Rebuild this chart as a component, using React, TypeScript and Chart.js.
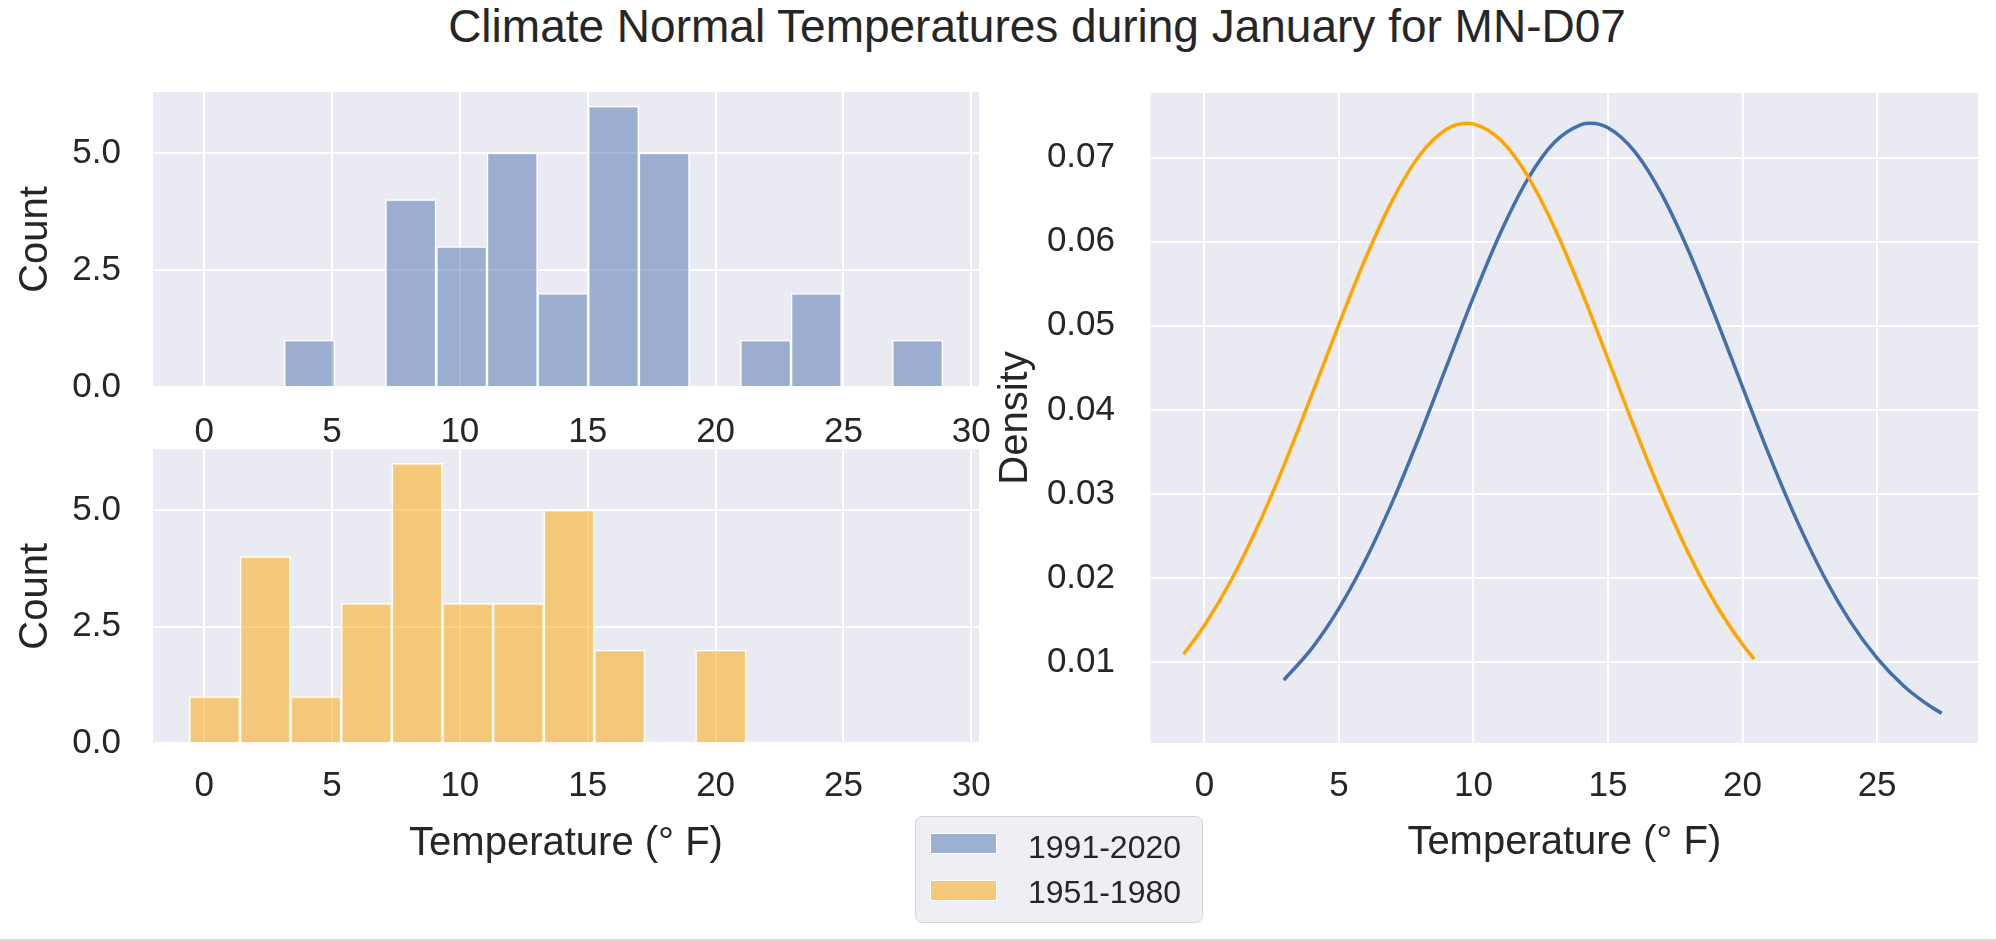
import React, { useEffect, useRef } from "react";
import { Chart, registerables } from "chart.js";

Chart.register(...registerables);

const FONT = "'Liberation Sans', Arial, Helvetica, sans-serif";
const TEXT = "#262626";
const AXES_BG = "#EAEAF2";

const TITLE = "Climate Normal Temperatures during January for MN-D07";
const SERIES = ["1991-2020", "1951-1980"];
const X_TITLE = "Temperature (° F)";
const COUNT_TITLE = "Count";
const DENSITY_TITLE = "Density";

// Histogram 1991-2020 (bin centres, counts)
const RECENT_BIN_CENTERS = [4.12, 6.1, 8.08, 10.07, 12.05, 14.03, 16.01, 17.99, 19.98, 21.96, 23.94, 25.92, 27.9];
const RECENT_COUNTS = [1, 0, 4, 3, 5, 2, 6, 5, 0, 1, 2, 0, 1];

// Histogram 1951-1980
const PAST_BIN_CENTERS = [0.41, 2.39, 4.37, 6.35, 8.33, 10.31, 12.29, 14.27, 16.25, 18.23, 20.21];
const PAST_COUNTS = [1, 4, 1, 3, 6, 3, 3, 5, 2, 0, 2];

// Density curves
const RECENT_DENSITY_X = [2.95, 4, 5, 6, 7, 8, 9, 10, 11, 12, 13, 14, 14.35, 15, 16, 17, 18, 19, 20, 21, 22, 23, 24, 25, 26, 27, 27.4];
const RECENT_DENSITY_Y = [0.00785, 0.01165, 0.01637, 0.02222, 0.02914, 0.03692, 0.04519, 0.05344, 0.06104, 0.06736, 0.0718, 0.07394, 0.0741, 0.07356, 0.0707, 0.06564, 0.05887, 0.051, 0.0427, 0.03452, 0.02697, 0.02035, 0.01483, 0.01045, 0.00711, 0.00467, 0.00391];
const PAST_DENSITY_X = [-0.77, 0, 1, 2, 3, 4, 5, 6, 7, 8, 9, 9.75, 10, 11, 12, 13, 14, 15, 16, 17, 18, 19, 20, 20.43];
const PAST_DENSITY_Y = [0.01095, 0.01435, 0.01975, 0.02626, 0.03373, 0.04186, 0.05018, 0.05812, 0.06502, 0.07029, 0.07338, 0.0741, 0.07402, 0.07213, 0.0679, 0.06174, 0.05424, 0.04603, 0.03774, 0.02989, 0.02287, 0.0169, 0.01207, 0.01033];

// Ticks and limits
const HIST_X_TICKS = [0, 5, 10, 15, 20, 25, 30];
const HIST_Y_TICKS = [0, 2.5, 5];
const DENS_X_TICKS = [0, 5, 10, 15, 20, 25];
const DENS_Y_TICKS = [0.01, 0.02, 0.03, 0.04, 0.05, 0.06, 0.07];
const HIST_X_LIMITS = [-2.0, 30.3];
const HIST_Y_LIMITS = [0, 6.3];
const DENS_X_LIMITS = [-2.0, 28.75];
const DENS_Y_LIMITS = [0.00036, 0.0777];

const BLUE_FILL = "rgba(76, 114, 176, 0.5)";
const ORANGE_FILL = "rgba(255, 165, 0, 0.5)";
const BLUE_LINE = "#4270ad";
const ORANGE_LINE = "#FFA500";

const bgPlugin = {
  id: "axesBg",
  beforeDraw(chart: any) {
    const { ctx, chartArea } = chart;
    if (!chartArea) return;
    ctx.save();
    ctx.fillStyle = AXES_BG;
    ctx.fillRect(chartArea.left, chartArea.top, chartArea.right - chartArea.left, chartArea.bottom - chartArea.top);
    ctx.restore();
  },
};

function makeAxis(o: {
  limits: number[];
  ticks: number[];
  fmt: (v: number) => string;
  size: number;
  horizontal: boolean;
  tickPad: number;
  title?: string;
  titlePad?: number;
  showLabels?: boolean;
}) {
  return {
    type: "linear",
    min: o.limits[0],
    max: o.limits[1],
    offset: false,
    grid: { color: "#ffffff", lineWidth: 2, drawTicks: false, offset: false },
    border: { display: false },
    ticks: {
      display: o.showLabels !== false,
      padding: o.tickPad,
      color: TEXT,
      font: { family: FONT, size: 35 },
      maxRotation: 0,
      minRotation: 0,
      autoSkip: false,
      callback: (v: any) => o.fmt(Number(v)),
    },
    title: o.title
      ? {
          display: true,
          text: o.title,
          color: TEXT,
          font: { family: FONT, size: 40 },
          padding: { top: o.titlePad ?? 0, bottom: o.titlePad ?? 0 },
        }
      : { display: false },
    afterBuildTicks: (s: any) => {
      s.ticks = o.ticks.map((v) => ({ value: v }));
    },
    afterFit: (s: any) => {
      if (o.horizontal) s.height = o.size;
      else s.width = o.size;
      s.paddingTop = 0;
      s.paddingBottom = 0;
      s.paddingLeft = 0;
      s.paddingRight = 0;
    },
  };
}

function histConfig(
  centers: number[],
  counts: number[],
  color: string,
  label: string,
  layout: { top: number; right: number; yWidth: number; xHeight: number; xTickPad: number; xTitle?: string; xTitlePad?: number }
) {
  return {
    type: "bar",
    data: {
      datasets: [
        {
          label,
          data: centers.map((c, i) => ({ x: c, y: counts[i] })),
          backgroundColor: color,
          borderColor: "#ffffff",
          borderWidth: 1.5,
          barPercentage: 1,
          categoryPercentage: 1,
        },
      ],
    },
    options: {
      animation: false,
      responsive: true,
      maintainAspectRatio: false,
      devicePixelRatio: 1,
      events: [],
      layout: { autoPadding: false, padding: { top: layout.top, right: layout.right, left: 0, bottom: 0 } },
      plugins: { legend: { display: false }, tooltip: { enabled: false }, title: { display: false } },
      scales: {
        x: makeAxis({
          limits: HIST_X_LIMITS,
          ticks: HIST_X_TICKS,
          fmt: (v) => String(v),
          size: layout.xHeight,
          horizontal: true,
          tickPad: layout.xTickPad,
          title: layout.xTitle,
          titlePad: layout.xTitlePad,
        }),
        y: makeAxis({
          limits: HIST_Y_LIMITS,
          ticks: HIST_Y_TICKS,
          fmt: (v) => v.toFixed(1),
          size: layout.yWidth,
          horizontal: false,
          tickPad: 32,
          title: COUNT_TITLE,
          titlePad: 12,
        }),
      },
    },
    plugins: [bgPlugin],
  };
}

function densityConfig() {
  return {
    type: "line",
    data: {
      datasets: [
        {
          label: SERIES[1],
          data: PAST_DENSITY_X.map((x, i) => ({ x, y: PAST_DENSITY_Y[i] })),
          borderColor: ORANGE_LINE,
          backgroundColor: ORANGE_LINE,
          borderWidth: 3.5,
          pointRadius: 0,
          cubicInterpolationMode: "monotone",
          fill: false,
          order: 0,
        },
        {
          label: SERIES[0],
          data: RECENT_DENSITY_X.map((x, i) => ({ x, y: RECENT_DENSITY_Y[i] })),
          borderColor: BLUE_LINE,
          backgroundColor: BLUE_LINE,
          borderWidth: 3.5,
          pointRadius: 0,
          cubicInterpolationMode: "monotone",
          fill: false,
          order: 1,
        },
      ],
    },
    options: {
      animation: false,
      responsive: true,
      maintainAspectRatio: false,
      devicePixelRatio: 1,
      events: [],
      layout: { autoPadding: false, padding: { top: 33, right: 18, left: 0, bottom: 0 } },
      plugins: { legend: { display: false }, tooltip: { enabled: false }, title: { display: false } },
      scales: {
        x: makeAxis({
          limits: DENS_X_LIMITS,
          ticks: DENS_X_TICKS,
          fmt: (v) => String(v),
          size: 137,
          horizontal: true,
          tickPad: 22,
          title: X_TITLE,
          titlePad: 13,
        }),
        y: makeAxis({
          limits: DENS_Y_LIMITS,
          ticks: DENS_Y_TICKS,
          fmt: (v) => v.toFixed(2),
          size: 190.6,
          horizontal: false,
          tickPad: 35.6,
          title: DENSITY_TITLE,
          titlePad: 32,
        }),
      },
    },
    plugins: [bgPlugin],
  };
}

function ChartBox(props: { left: number; top: number; width: number; height: number; make: () => any }) {
  const ref = useRef<HTMLCanvasElement>(null);
  useEffect(() => {
    const chart = new Chart(ref.current as HTMLCanvasElement, props.make());
    return () => chart.destroy();
  }, []);
  return (
    <div style={{ position: "absolute", left: props.left, top: props.top, width: props.width, height: props.height }}>
      <canvas ref={ref} />
    </div>
  );
}

function LegendRow(props: { top: number; color: string; text: string; textTop: number }) {
  return (
    <>
      <div
        style={{
          position: "absolute",
          left: 930,
          top: props.top,
          width: 67,
          height: 21,
          background: props.color,
          boxSizing: "border-box",
          border: "1.5px solid #ffffff",
        }}
      />
      <div
        style={{
          position: "absolute",
          left: 1028,
          top: props.textTop,
          fontSize: 32,
          lineHeight: "32px",
          color: TEXT,
          whiteSpace: "nowrap",
        }}
      >
        {props.text}
      </div>
    </>
  );
}

export default function App() {
  return (
    <div
      style={{
        position: "fixed",
        left: 0,
        top: 0,
        width: 1996,
        height: 942,
        background: "#ffffff",
        overflow: "hidden",
        fontFamily: FONT,
      }}
    >
      <div
        style={{
          position: "absolute",
          left: 1037,
          top: 3,
          transform: "translateX(-50%)",
          fontSize: 46,
          lineHeight: "46px",
          color: TEXT,
          whiteSpace: "nowrap",
        }}
      >
        {TITLE}
      </div>
      <ChartBox
        left={0}
        top={60}
        width={1000}
        height={400}
        make={() =>
          histConfig(RECENT_BIN_CENTERS, RECENT_COUNTS, BLUE_FILL, SERIES[0], {
            top: 32,
            right: 21,
            yWidth: 153,
            xHeight: 73,
            xTickPad: 24,
          })
        }
      />
      <ChartBox
        left={0}
        top={430}
        width={1000}
        height={450}
        make={() =>
          histConfig(PAST_BIN_CENTERS, PAST_COUNTS, ORANGE_FILL, SERIES[1], {
            top: 19.3,
            right: 21,
            yWidth: 153,
            xHeight: 136.7,
            xTickPad: 22,
            xTitle: X_TITLE,
            xTitlePad: 12,
          })
        }
      />
      <ChartBox left={960} top={60} width={1036} height={820} make={densityConfig} />
      <div
        style={{
          position: "absolute",
          left: 915,
          top: 816,
          width: 288,
          height: 107,
          boxSizing: "border-box",
          background: "rgba(234,234,242,0.8)",
          border: "1.5px solid #d4d4d8",
          borderRadius: 7,
        }}
      />
      <LegendRow top={833} color="#9db0d2" text={SERIES[0]} textTop={831} />
      <LegendRow top={880} color="#f6c97a" text={SERIES[1]} textTop={876} />
      <div style={{ position: "absolute", left: 0, top: 939, width: 1996, height: 3, background: "#d8d8d8" }} />
    </div>
  );
}
